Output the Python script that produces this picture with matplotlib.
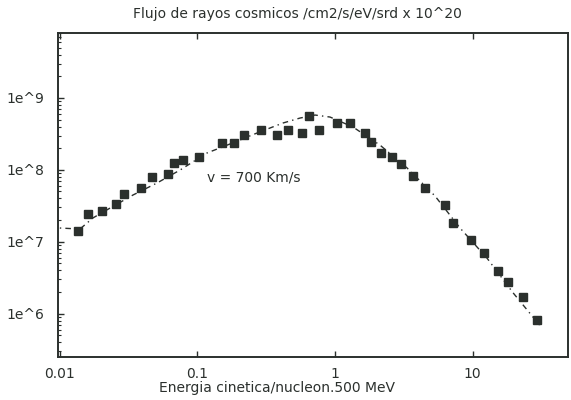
import numpy as np
import matplotlib
matplotlib.use('Agg')
import matplotlib.pyplot as plt

# observed flux points (energy per nucleon in units of 500 MeV, flux)
energy = [0.0135, 0.0160, 0.0203, 0.0256, 0.0293, 0.0389, 0.0468, 0.0611, 0.0676, 0.0786,
          0.103, 0.151, 0.185, 0.218, 0.290, 0.379, 0.455, 0.576, 0.647, 0.765,
          1.03, 1.29, 1.65, 1.83, 2.16, 2.60, 3.02, 3.69, 4.51, 6.30,
          7.20, 9.73, 12.1, 15.3, 18.1, 23.2, 29.4]
flux = [1.41e7, 2.43e7, 2.67e7, 3.34e7, 4.6e7, 5.58e7, 7.94e7, 8.75e7, 1.24e8, 1.37e8,
        1.51e8, 2.36e8, 2.36e8, 3.05e8, 3.58e8, 3.05e8, 3.58e8, 3.25e8, 5.6e8, 3.58e8,
        4.48e8, 4.48e8, 3.25e8, 2.44e8, 1.71e8, 1.51e8, 1.20e8, 8.2e7, 5.58e7, 3.24e7,
        1.82e7, 1.06e7, 6.97e6, 3.91e6, 2.75e6, 1.70e6, 8.15e5]

# model curve for v = 700 km/s
model_energy = [0.0100, 0.0140, 0.0174, 0.0232, 0.0340, 0.0508, 0.0748, 0.117, 0.188, 0.271,
                0.419, 0.557, 0.716, 0.920, 1.35, 2.12, 3.34, 5.33, 8.10, 12.7, 19.7, 31.9]
model_flux = [1.55e7, 1.50e7, 2.14e7, 2.94e7, 4.46e7, 6.55e7, 9.93e7, 1.71e8, 2.44e8, 3.25e8,
              4.48e8, 5.25e8, 5.78e8, 5.42e8, 3.94e8, 2.21e8, 1.06e8, 4.32e7, 1.55e7, 5.93e6,
              1.94e6, 6.31e5]

xticks = [0.01, 0.1, 1, 10]
xticklabels = ['0.01', '0.1', '1', '10']
yticks = [1e6, 1e7, 1e8, 1e9]
yticklabels = ['1e^6', '1e^7', '1e^8', '1e^9']

ink = '#2b302d'

fig = plt.figure(figsize=(5.71, 4.0), dpi=100)
ax = fig.add_axes([0.1016, 0.1075, 0.8931, 0.81])

ax.plot(model_energy, model_flux, color=ink, lw=1.0, linestyle=(0, (1, 3, 4, 3)))
ax.plot(energy, flux, linestyle='none', marker='s', ms=5.5, color=ink)

ax.set_xscale('log')
ax.set_yscale('log')
ax.set_xlim(0.0097, 49.3)
ax.set_ylim(2.49e5, 8.0e9)

ax.set_xticks(xticks)
ax.set_xticklabels(xticklabels)
ax.xaxis.set_minor_locator(matplotlib.ticker.NullLocator())
ax.set_yticks(yticks)
ax.set_yticklabels(yticklabels)

ax.tick_params(axis='both', which='major', direction='in', length=4, width=1,
               color=ink, labelcolor=ink, labelsize=10, pad=10)
ax.tick_params(axis='x', which='major', pad=7)
ax.tick_params(axis='y', which='minor', direction='in', length=2.5, width=0.8, color=ink)
ax.tick_params(axis='x', top=True)

for s in ax.spines.values():
    s.set_linewidth(1.4)
    s.set_color(ink)

ax.text(0.258, 7.9e7, 'v = 700 Km/s', fontsize=10, color=ink, ha='center', va='center')

ax.set_title('Flujo de rayos cosmicos /cm2/s/eV/srd x 10^20', fontsize=10, color=ink,
             pad=11, x=0.47)
ax.set_xlabel('Energia cinetica/nucleon.500 MeV', fontsize=10, color=ink, labelpad=-1)
ax.xaxis.set_label_coords(0.43, -0.075)

fig.savefig('out.png', dpi=100)
